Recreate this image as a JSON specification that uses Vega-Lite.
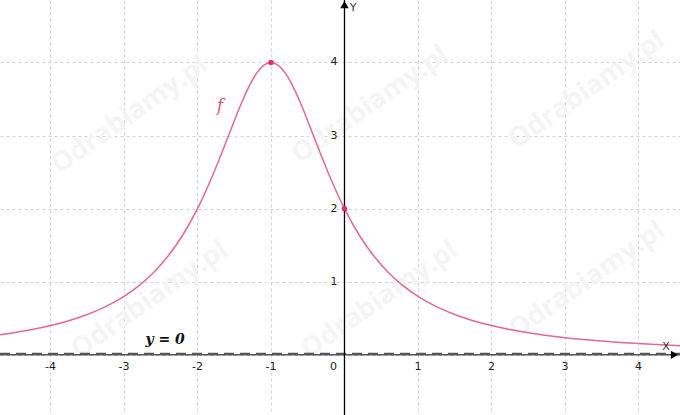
{
  "$schema": "https://vega.github.io/schema/vega-lite/v6.json",
  "width": 680,
  "height": 415,
  "autosize": {"type": "none"},
  "padding": 0,
  "background": "white",
  "config": {
    "view": {"stroke": null},
    "axis": {"labels": false, "ticks": false, "domain": false, "grid": true, "gridColor": "#d2d2d2", "gridDash": [3, 3], "gridWidth": 1},
    "axisX": {"tickCount": 10},
    "axisY": {"tickCount": 6}
  },
  "datasets": {
    "curve": [
      {"x": -4.7, "y": 0.2723}, {"x": -4.5, "y": 0.3019}, {"x": -4.25, "y": 0.3459}, {"x": -4.0, "y": 0.4},
      {"x": -3.75, "y": 0.4672}, {"x": -3.5, "y": 0.5517}, {"x": -3.25, "y": 0.6598}, {"x": -3.0, "y": 0.8},
      {"x": -2.8, "y": 0.9434}, {"x": -2.6, "y": 1.1236}, {"x": -2.4, "y": 1.3514}, {"x": -2.2, "y": 1.6393},
      {"x": -2.0, "y": 2.0}, {"x": -1.9, "y": 2.2099}, {"x": -1.8, "y": 2.439}, {"x": -1.7, "y": 2.6846},
      {"x": -1.6, "y": 2.9412}, {"x": -1.5, "y": 3.2}, {"x": -1.4, "y": 3.4483}, {"x": -1.3, "y": 3.6697},
      {"x": -1.2, "y": 3.8462}, {"x": -1.1, "y": 3.9604}, {"x": -1.0, "y": 4.0}, {"x": -0.9, "y": 3.9604},
      {"x": -0.8, "y": 3.8462}, {"x": -0.7, "y": 3.6697}, {"x": -0.6, "y": 3.4483}, {"x": -0.5, "y": 3.2},
      {"x": -0.4, "y": 2.9412}, {"x": -0.3, "y": 2.6846}, {"x": -0.2, "y": 2.439}, {"x": -0.1, "y": 2.2099},
      {"x": 0.0, "y": 2.0}, {"x": 0.2, "y": 1.6393}, {"x": 0.4, "y": 1.3514}, {"x": 0.6, "y": 1.1236},
      {"x": 0.8, "y": 0.9434}, {"x": 1.0, "y": 0.8}, {"x": 1.25, "y": 0.6598}, {"x": 1.5, "y": 0.5517},
      {"x": 1.75, "y": 0.4672}, {"x": 2.0, "y": 0.4}, {"x": 2.25, "y": 0.3459}, {"x": 2.5, "y": 0.3019},
      {"x": 2.75, "y": 0.2656}, {"x": 3.0, "y": 0.2353}, {"x": 3.25, "y": 0.2098}, {"x": 3.5, "y": 0.1882},
      {"x": 3.75, "y": 0.1698}, {"x": 4.0, "y": 0.1538}, {"x": 4.25, "y": 0.14}, {"x": 4.6, "y": 0.1236}
    ],
    "hline": [{"x": -4.687, "x2": 4.565, "y": 0}],
    "vline": [{"x": 0, "y": -0.823, "y2": 4.854}],
    "pts": [{"x": -1, "y": 4}, {"x": 0, "y": 2}],
    "arrowUp": [{"x": 0, "y": 4.79}],
    "arrowRight": [{"x": 4.49, "y": 0}],
    "xlabels": [
      {"x": -4, "y": -0.16, "t": "-4"}, {"x": -3, "y": -0.16, "t": "-3"}, {"x": -2, "y": -0.16, "t": "-2"},
      {"x": -1, "y": -0.16, "t": "-1"}, {"x": -0.15, "y": -0.16, "t": "0"}, {"x": 1, "y": -0.16, "t": "1"},
      {"x": 2, "y": -0.16, "t": "2"}, {"x": 3, "y": -0.16, "t": "3"}, {"x": 4, "y": -0.16, "t": "4"}
    ],
    "ylabels": [
      {"x": -0.095, "y": 1, "t": "1"}, {"x": -0.095, "y": 2, "t": "2"}, {"x": -0.095, "y": 3, "t": "3"}, {"x": -0.095, "y": 4, "t": "4"}
    ],
    "axisnames": [{"x": 0.116, "y": 4.745, "t": "Y"}, {"x": 4.374, "y": 0.107, "t": "X"}],
    "flabel": [{"x": -1.694, "y": 3.4, "t": "f"}],
    "asym": [{"x": -2.44, "y": 0.2, "t": "y = 0"}],
    "wm": [
      {"x": -2.92, "y": 3.28, "t": "Odrabiamy.pl"}, {"x": 0.35, "y": 3.42, "t": "Odrabiamy.pl"}, {"x": 3.3, "y": 3.62, "t": "Odrabiamy.pl"},
      {"x": -2.65, "y": 0.75, "t": "Odrabiamy.pl"}, {"x": 0.48, "y": 0.75, "t": "Odrabiamy.pl"}, {"x": 3.3, "y": 1.02, "t": "Odrabiamy.pl"}
    ]
  },
  "encoding": {
    "x": {"field": "x", "type": "quantitative", "scale": {"domain": [-4.687, 4.565], "nice": false, "zero": false}, "title": null},
    "y": {"field": "y", "type": "quantitative", "scale": {"domain": [-0.823, 4.854], "nice": false, "zero": false}, "title": null}
  },
  "layer": [
    {
      "data": {"name": "wm"},
      "mark": {"type": "text", "angle": 325, "fontSize": 27, "font": "Open Sans", "fontWeight": "bold", "color": "#f4f4f4", "align": "center", "baseline": "middle", "clip": true},
      "encoding": {"text": {"field": "t"}}
    },
    {
      "data": {"name": "curve"},
      "mark": {"type": "line", "color": "#e26a8c", "strokeWidth": 1.5, "interpolate": "monotone", "clip": true}
    },
    {
      "data": {"name": "hline"},
      "mark": {"type": "rule", "color": "#000000", "strokeWidth": 1},
      "encoding": {"x2": {"field": "x2"}}
    },
    {
      "data": {"name": "hline"},
      "mark": {"type": "rule", "color": "#555555", "strokeWidth": 2, "strokeDash": [10, 6], "yOffset": -1},
      "encoding": {"x2": {"field": "x2"}}
    },
    {
      "data": {"name": "vline"},
      "mark": {"type": "rule", "color": "#000000", "strokeWidth": 1.3},
      "encoding": {"y2": {"field": "y2"}}
    },
    {
      "data": {"name": "arrowUp"},
      "mark": {"type": "point", "shape": "triangle-up", "filled": true, "color": "#000000", "size": 70, "opacity": 1}
    },
    {
      "data": {"name": "arrowRight"},
      "mark": {"type": "point", "shape": "triangle-right", "filled": true, "color": "#000000", "size": 70, "opacity": 1}
    },
    {
      "data": {"name": "pts"},
      "mark": {"type": "point", "shape": "circle", "filled": true, "color": "#e0325f", "size": 30, "opacity": 1}
    },
    {
      "data": {"name": "xlabels"},
      "mark": {"type": "text", "font": "DejaVu Sans", "fontSize": 11, "color": "#222222", "align": "center", "baseline": "middle"},
      "encoding": {"text": {"field": "t"}}
    },
    {
      "data": {"name": "ylabels"},
      "mark": {"type": "text", "font": "DejaVu Sans", "fontSize": 11, "color": "#222222", "align": "right", "baseline": "middle"},
      "encoding": {"text": {"field": "t"}}
    },
    {
      "data": {"name": "axisnames"},
      "mark": {"type": "text", "font": "DejaVu Sans", "fontSize": 11, "color": "#333333", "align": "center", "baseline": "middle"},
      "encoding": {"text": {"field": "t"}}
    },
    {
      "data": {"name": "flabel"},
      "mark": {"type": "text", "font": "DejaVu Serif", "fontStyle": "italic", "fontSize": 16, "color": "#d9506f", "align": "center", "baseline": "middle"},
      "encoding": {"text": {"field": "t"}}
    },
    {
      "data": {"name": "asym"},
      "mark": {"type": "text", "font": "DejaVu Serif", "fontStyle": "italic", "fontWeight": "bold", "fontSize": 14, "color": "#111111", "align": "center", "baseline": "middle"},
      "encoding": {"text": {"field": "t"}}
    }
  ]
}
